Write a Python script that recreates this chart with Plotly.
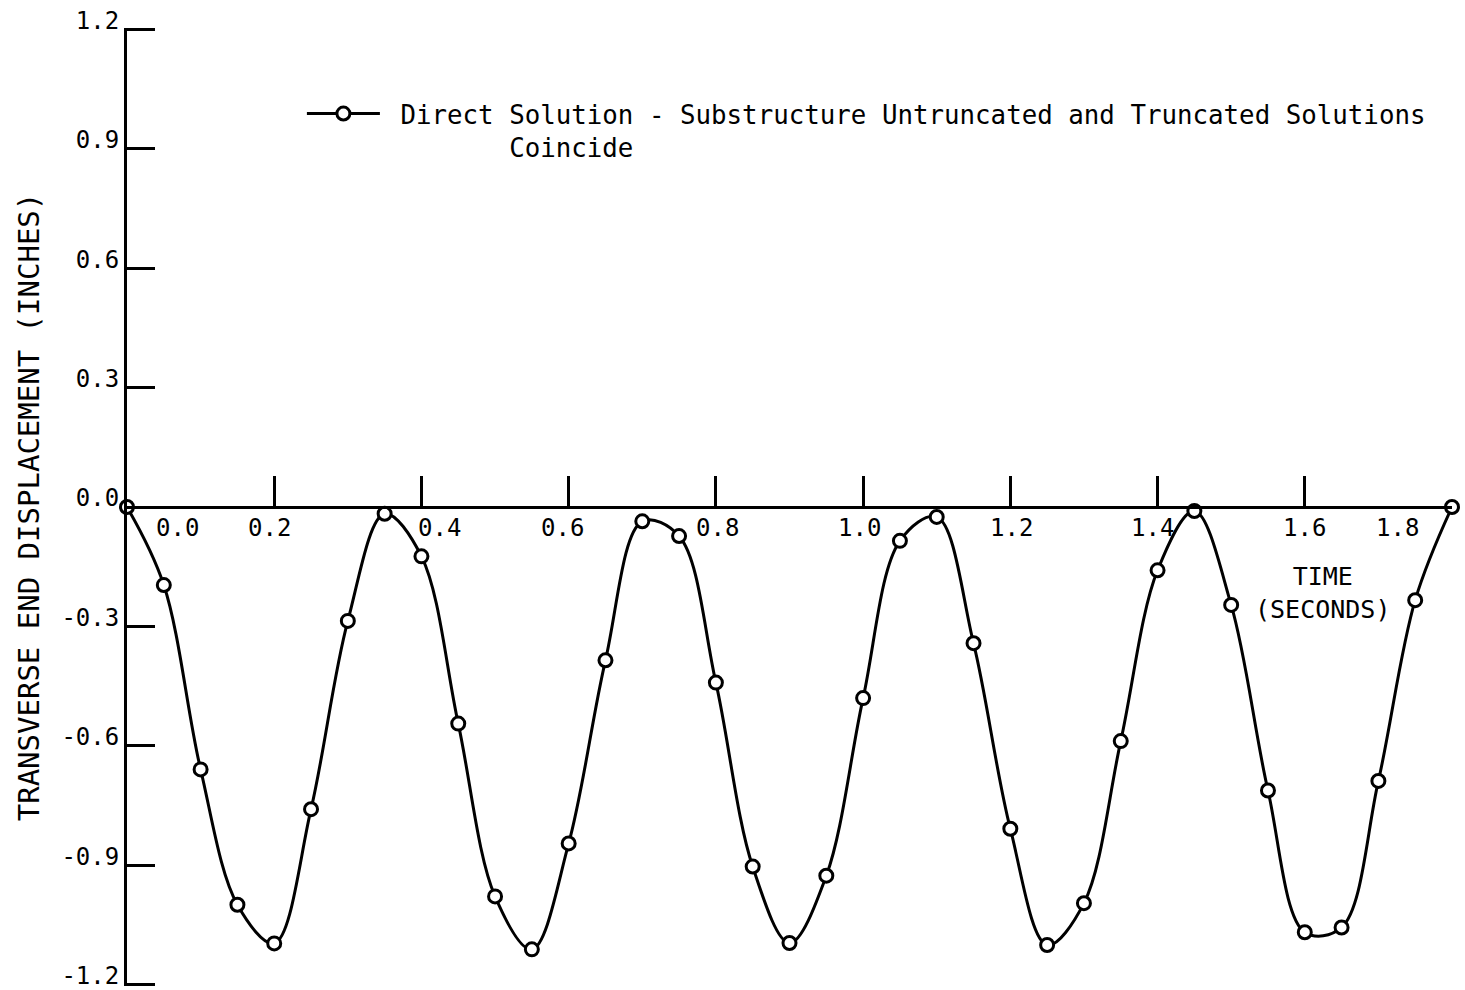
import plotly.graph_objects as go

# Transverse end displacement history (inches) sampled every 0.05 s
time_s = [0.00, 0.05, 0.10, 0.15, 0.20, 0.25, 0.30, 0.35, 0.40, 0.45,
          0.50, 0.55, 0.60, 0.65, 0.70, 0.75, 0.80, 0.85, 0.90, 0.95,
          1.00, 1.05, 1.10, 1.15, 1.20, 1.25, 1.30, 1.35, 1.40, 1.45,
          1.50, 1.55, 1.60, 1.65, 1.70, 1.75, 1.80]
displacement_in = [0.000, -0.196, -0.659, -0.999, -1.096, -0.759, -0.286, -0.017, -0.124, -0.544,
                   -0.978, -1.111, -0.845, -0.385, -0.036, -0.073, -0.441, -0.903, -1.095, -0.926,
                   -0.480, -0.085, -0.025, -0.342, -0.808, -1.100, -0.995, -0.588, -0.159, -0.010,
                   -0.246, -0.712, -1.068, -1.056, -0.688, -0.234, 0.000]

series_name = "Direct Solution - Substructure Untruncated and Truncated Solutions"
series_note = "Coincide"

y_tick_vals = [1.2, 0.9, 0.6, 0.3, 0.0, -0.3, -0.6, -0.9, -1.2]
y_tick_text = ["1.2", "0.9", "0.6", "0.3", "0.0", "-0.3", "-0.6", "-0.9", "-1.2"]
x_tick_vals = [0.2, 0.4, 0.6, 0.8, 1.0, 1.2, 1.4, 1.6, 1.8]
x_tick_text = ["0.0", "0.2", "0.4", "0.6", "0.8", "1.0", "1.2", "1.4", "1.6", "1.8"]

# hand-lettered time labels sit a little off their tick marks
x_label_at = [0.068, 0.194, 0.425, 0.592, 0.802, 0.995, 1.202, 1.393, 1.600, 1.726]
x_label_y = -0.052

FONT = "DejaVu Sans Mono"
INK = "black"
NBSP = "\u00a0"

# a hair of padding so the end ticks at +/-1.2 are still drawn
y_pad = 0.003

fig = go.Figure()
fig.add_trace(go.Scatter(
    x=time_s, y=displacement_in,
    mode="lines+markers",
    name=NBSP + series_name + "<br>" + NBSP * 8 + series_note,
    line=dict(color=INK, width=3, shape="spline", smoothing=1.0),
    marker=dict(symbol="circle", size=13, color="white", line=dict(color=INK, width=3)),
    cliponaxis=False,
))

annotations = []
for pos, txt in zip(x_label_at, x_tick_text):
    annotations.append(dict(x=pos, y=x_label_y, xref="x", yref="y", text=txt,
                            showarrow=False, xanchor="center", yanchor="middle",
                            font=dict(family=FONT, size=24, color=INK)))
annotations.append(dict(x=1.624, y=-0.217, xref="x", yref="y",
                        text="TIME<br>(SECONDS)", showarrow=False,
                        xanchor="center", yanchor="middle", align="center",
                        font=dict(family=FONT, size=25, color=INK)))

fig.update_layout(
    template="none",
    width=1465, height=990,
    margin=dict(l=127, r=13, t=28, b=4, autoexpand=False),
    paper_bgcolor="white", plot_bgcolor="white",
    font=dict(family=FONT, color=INK),
    showlegend=True,
    legend=dict(x=0.132, y=0.935, xanchor="left", yanchor="top",
                valign="top", itemwidth=73, bgcolor="rgba(0,0,0,0)",
                font=dict(family=FONT, size=25.8, color=INK)),
    annotations=annotations,
    xaxis=dict(
        range=[0, 1.8], showgrid=False, zeroline=False,
        showline=True, linecolor=INK, linewidth=3,
        anchor="free", position=0.5,
        tickmode="array", tickvals=x_tick_vals,
        ticks="inside", ticklen=30, tickwidth=3, tickcolor=INK,
        showticklabels=False, automargin=False,
    ),
    yaxis=dict(
        range=[-1.2 - y_pad, 1.2 + y_pad], showgrid=False, zeroline=False,
        showline=True, linecolor=INK, linewidth=3,
        tickmode="array", tickvals=y_tick_vals, ticktext=y_tick_text,
        ticks="inside", ticklen=28, tickwidth=3, tickcolor=INK,
        tickfont=dict(family=FONT, size=24, color=INK),
        ticklabelshift=-9, ticklabeloverflow="allow",
        title=dict(text="TRANSVERSE END DISPLACEMENT (INCHES)",
                   font=dict(family=FONT, size=29, color=INK), standoff=14),
        automargin=False,
    ),
)

fig.write_html("out.html")
